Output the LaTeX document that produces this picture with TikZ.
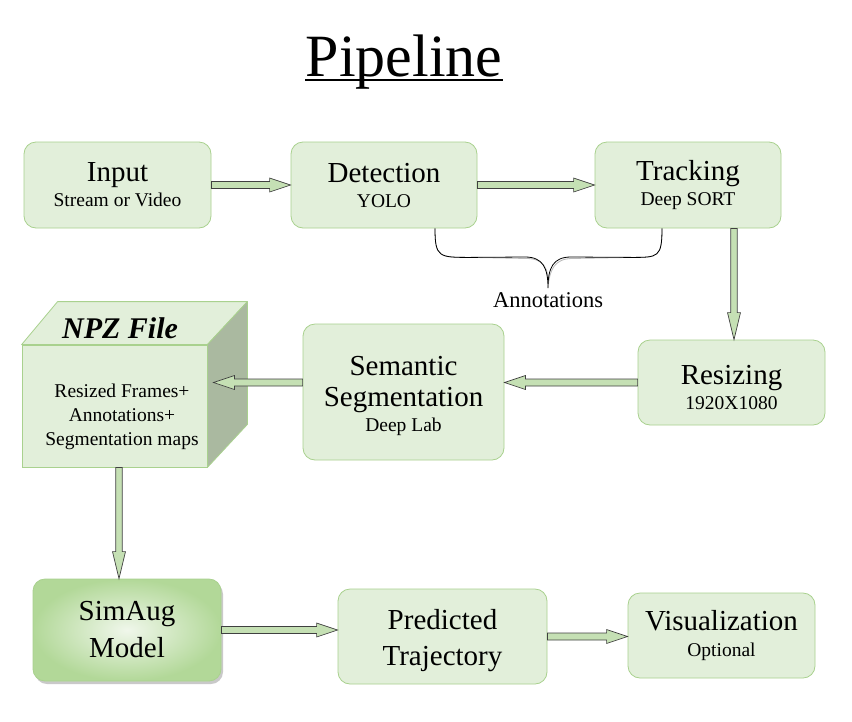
\documentclass[tikz,border=0pt]{standalone}
\usepackage{fontspec}
\setmainfont{Liberation Serif}
\usetikzlibrary{calc,shadows}
\definecolor{boxfill}{HTML}{E2EFDA}
\definecolor{boxline}{HTML}{A9D18E}
\definecolor{arrowfill}{HTML}{C5E0B4}
\definecolor{arrowline}{HTML}{404040}
\definecolor{cubeside}{HTML}{AAB9A0}
\definecolor{simdark}{HTML}{B2D898}
\definecolor{simlight}{HTML}{F0F7EB}
\newcommand\mainfs{\fontsize{29}{33}\selectfont}
\newcommand\subfs{\fontsize{19.5}{24}\selectfont}
\tikzset{
  box/.style={draw=boxline, fill=boxfill, line width=0.8pt, rounded corners=12pt,
    align=center, inner sep=0pt},
  boxtext/.style={align=center, inner sep=0pt},
  blk/.style n args={3}{draw=arrowline, fill=arrowfill, line width=0.7pt, line join=miter,
    to path={let \p1=(\tikztostart), \p2=(\tikztotarget), \n1={atan2(\y2-\y1,\x2-\x1)} in
      ($(\p1)+(\n1+90:#1)$) -- ($(\p2)+(\n1+180:#3)+(\n1+90:#1)$)
      -- ($(\p2)+(\n1+180:#3)+(\n1+90:#2)$) -- (\p2)
      -- ($(\p2)+(\n1+180:#3)+(\n1-90:#2)$) -- ($(\p2)+(\n1+180:#3)+(\n1-90:#1)$)
      -- ($(\p1)+(\n1-90:#1)$) -- cycle}},
  blkh/.style={blk={3.5pt}{7pt}{21pt}},
  blkv/.style={blk={3.2pt}{6.5pt}{27pt}},
  brace/.style={line width=0.8pt, draw=black},
  braceshadow/.style={line width=0.8pt, draw=gray!55}
}
\begin{document}
\begin{tikzpicture}[x=1pt,y=-1pt]
\path[use as bounding box, fill=white] (0,0) rectangle (852,721);

% title
\node[anchor=base, inner sep=0pt, font=\fontsize{60}{64}\selectfont] (title) at (404,76) {Pipeline};
\draw[line width=2pt] ($(title.base west)+(0,4)$) -- ($(title.base east)+(0,4)$);

% top row
\node[box, minimum width=187pt, minimum height=86pt, font=\subfs] (input) at (117.5,185)
  {{\mainfs Input}\\[1pt]Stream or Video};
\node[box, minimum width=186pt, minimum height=86pt, font=\subfs] (det) at (384,185)
  {{\mainfs Detection}\\[1pt]YOLO};
\node[box, minimum width=186pt, minimum height=86pt, font=\subfs] (track) at (688,185)
  {{\mainfs Tracking}\\[1pt]Deep SORT};

% middle row
\node[box, minimum width=187pt, minimum height=85pt] (resize) at (731.5,382.5) {};
\node[boxtext, font=\subfs] (resizetext) at ($(resize.center)+(0,5)$)
  {{\mainfs Resizing}\\[1pt]1920X1080};
\node[box, minimum width=201pt, minimum height=136pt] (sem) at (403.5,392) {};
\node[boxtext, font=\mainfs] (semtext) at ($(sem.center)+(0,4)$)
  {Semantic\\[-2pt]Segmentation\\[-8pt]{\subfs Deep Lab}};

% cube
\node[draw=boxline, fill=boxfill, line width=0.8pt, minimum width=185pt, minimum height=122pt, inner sep=0pt] (npz) at (114.5,406) {};
\draw[draw=boxline, fill=boxfill, line width=0.8pt, line join=round]
  (npz.north west) -- ++(36,-43) -- ($(npz.north east)+(40,-43)$) -- (npz.north east) -- cycle;
\draw[draw=boxline, fill=cubeside, line width=0.8pt, line join=round]
  (npz.north east) -- ++(40,-43) -- ($(npz.south east)+(40,-43)$) -- (npz.south east) -- cycle;
\node[font=\fontsize{30}{34}\selectfont\bfseries\itshape, inner sep=0pt] (npztitle) at (120,328) {NPZ File};
\node[font=\subfs, boxtext] (npztext) at (122,416.5)
  {Resized Frames+\\Annotations+\\Segmentation maps};

% bottom row
\node[box, minimum width=188pt, minimum height=102pt, font=\mainfs,
  inner color=simlight, outer color=simdark,
  drop shadow={shadow xshift=2pt, shadow yshift=-3pt, fill=black!35, opacity=0.6}] (sim) at (127,630)
  {SimAug\\[4pt]Model};
\node[box, minimum width=209pt, minimum height=95pt] (pred) at (442.5,636.5) {};
\node[boxtext, font=\mainfs] (predtext) at ($(pred.center)+(0,4)$)
  {Predicted\\[3pt]Trajectory};
\node[box, minimum width=187pt, minimum height=85pt, font=\subfs] (vis) at (721.5,635.5)
  {{\mainfs Visualization}\\[2pt]Optional};

% arrows
\draw[blkh] (input.east) to (det.west);
\draw[blkh] (det.east) to (track.west);
\draw[blkv] ($(resize.north |- track.south)+(2.5,0)$) to ($(resize.north)+(2.5,0)$);
\draw[blkh] (resize.west) to (resize.west -| sem.east);
\draw[blkh] (sem.west |- resize.west) to ($(npz.east |- resize.west)+(6,0)$);
\draw[blkv] ($(npz.south)+(4.5,0)$) to ($(npz.south |- sim.north)+(4.5,0)$);
\draw[blkh] (sim.east) to (sim.east -| pred.west);
\draw[blkh] (pred.east) to (pred.east -| vis.west);

% brace
\coordinate (bl) at ($(det.south)+(51,0)$);
\coordinate (br) at ($(track.south)+(-26,0)$);
\coordinate (btip) at (548,288);
\begin{scope}[shift={(1.5,1.5)}]
\draw[braceshadow] (bl) .. controls ($(bl)+(0,29)$) and ($(bl)+(4,29)$) .. ($(bl)+(35,29)$)
  -- (525,257) .. controls (543,257) and (548,268) .. (btip)
  .. controls (548,268) and (553,257) .. (571,257)
  -- ($(br)+(-30,29)$) .. controls ($(br)+(-4,29)$) and ($(br)+(0,29)$) .. (br);
\end{scope}
\draw[brace] (bl) .. controls ($(bl)+(0,29)$) and ($(bl)+(4,29)$) .. ($(bl)+(35,29)$)
  -- (525,257) .. controls (543,257) and (548,268) .. (btip)
  .. controls (548,268) and (553,257) .. (571,257)
  -- ($(br)+(-30,29)$) .. controls ($(br)+(-4,29)$) and ($(br)+(0,29)$) .. (br);
\node[font=\fontsize{22.5}{26}\selectfont, inner sep=0pt] (annot) at (548,300) {Annotations};
\end{tikzpicture}
\end{document}
